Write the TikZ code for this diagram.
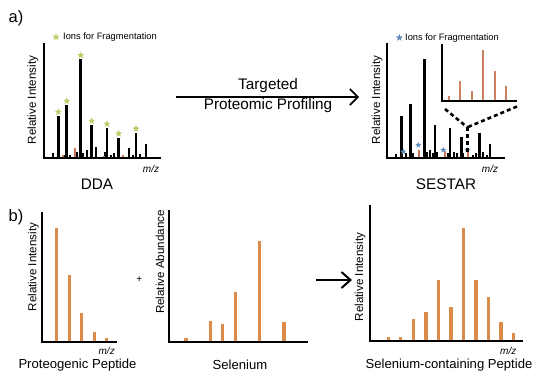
\documentclass[tikz,border=0pt]{standalone}
\usepackage{fontspec}
\setmainfont{Liberation Sans}
\usetikzlibrary{arrows.meta,shapes.geometric}
\definecolor{barorange}{RGB}{218,140,72}
\definecolor{insetred}{RGB}{206,128,98}
\definecolor{smallred}{RGB}{205,115,90}
\definecolor{stargreen}{RGB}{185,205,100}
\definecolor{starblue}{RGB}{95,140,185}
\begin{document}
\begin{tikzpicture}[x=1pt,y=-1pt,
  axisline/.style={line width=2pt, line cap=butt, line join=miter},
  bigbar/.style={line width=2.6pt, black},
  smallbar/.style={line width=2pt, black},
  redbar/.style={line width=2pt, smallred},
  orangebar/.style={line width=3.2pt, barorange},
  insetbar/.style={line width=1.8pt, insetred},
  ylabel/.style={rotate=90, font=\fontsize{11.6}{13}\selectfont, inner sep=0pt},
  mzlabel/.style={font=\fontsize{10}{12}\selectfont\itshape, inner sep=0pt},
  title/.style={font=\fontsize{15.3}{18}\selectfont, inner sep=0pt},
  panellabel/.style={font=\fontsize{16.5}{19}\selectfont, inner sep=0pt},
  sublabel/.style={font=\fontsize{13.1}{15}\selectfont, inner sep=0pt},
  legendtext/.style={font=\fontsize{9.3}{11}\selectfont, inner sep=0pt, anchor=west},
  starmark/.style={star, star points=5, star point ratio=2.4, minimum size=7.5pt, inner sep=0pt, draw=none},
  flowarrow/.style={line width=1.6pt, -{Straight Barb[length=8pt,width=16pt,line width=1.6pt]}},
  zoomline/.style={line width=2.6pt, dash pattern=on 4pt off 3pt}
]
\useasboundingbox (0,0) rectangle (536,378);
\fill[white] (0,0) rectangle (536,378);

% ---------- panel labels ----------
\node[panellabel] (la) at (16,18) {a)};
\node[panellabel] (lb) at (16,217) {b)};

% ---------- DDA spectrum ----------
\foreach \x/\t in {52.7/153, 64/155, 70/155, 76.7/152, 82.7/153, 86.7/150, 96/147, 105/152, 110.7/155, 114/153, 129.3/148, 132.7/155, 140/154, 146/144}
  \draw[smallbar] (\x,158) -- (\x,\t);
\foreach \x/\t in {75/148, 62.7/155, 123.3/155, 104/156}
  \draw[redbar] (\x,158) -- (\x,\t);
\foreach \x/\t in {58.3/116, 66.7/105, 80.7/59.3, 91.7/125, 107/128, 118.7/137.7, 136/132.7}
{
  \draw[bigbar] (\x,158) -- (\x,\t);
  \node[starmark, fill=stargreen] at (\x,\t-4) {};
}
\draw[axisline] (44,43) -- (44,158) -- (161,158);
\node[starmark, fill=stargreen] (ddastar) at (56,37) {};
\node[legendtext] (ddaleg) at (63,37) {Ions for Fragmentation};
\node[ylabel] (ddaylab) at (33,100) {Relative Intensity};
\node[mzlabel] (ddamz) at (151,169) {m/z};
\node[title] (dda) at (97,184) {DDA};

% ---------- arrow a ----------
\coordinate (arrAstart) at (176,97);
\coordinate (arrAend) at (359,97);
\draw[flowarrow] (arrAstart) -- (arrAend);
\node[title] (targ) at (268,86) {Targeted};
\node[title] (prof) at (268,106) {Proteomic Profiling};

% ---------- SESTAR spectrum ----------
\foreach \x/\t in {396/154.3, 406/153.3, 413.3/153.3, 426.7/151.7, 430/150, 433.3/153.3, 437.3/151.7, 448.3/153, 454/151.7, 457.3/153.3, 463.3/153.3, 472.7/155, 476/153.3, 483.3/151.7, 486.7/155}
  \draw[smallbar] (\x,158) -- (\x,\t);
\foreach \x/\t in {419.3/150, 445/151, 468.3/151.7}
  \draw[redbar] (\x,158) -- (\x,\t);
\foreach \x/\t in {401.7/116, 410.7/104.3, 424.3/59.3, 435/125, 450/128.3, 461.7/136.7, 479.3/132.7, 490/144.3}
  \draw[bigbar] (\x,158) -- (\x,\t);
\foreach \x/\y in {403.3/151.7, 418.3/145, 443.3/150, 467.3/150}
  \node[starmark, fill=starblue, minimum size=6.5pt] at (\x,\y) {};
\draw[axisline] (387.3,43) -- (387.3,158) -- (505,158);
\node[starmark, fill=starblue] (sesstar) at (399.3,37.7) {};
\node[legendtext] (sesleg) at (405,37.7) {Ions for Fragmentation};
\node[ylabel] (sesylab) at (377,100) {Relative Intensity};
\node[mzlabel] (sesmz) at (490,169) {m/z};
\node[title] (sestar) at (446,184) {SESTAR};

% inset
\foreach \x/\t in {449/96, 460/80.7, 471.7/91, 483.3/50, 495/70.7, 506/86}
  \draw[insetbar] (\x,101) -- (\x,\t);
\draw[axisline] (441.7,44) -- (441.7,101) -- (517,101);
\coordinate (zl) at (445,109);
\coordinate (zr) at (517,106.5);
\coordinate (zm) at (467.3,127.3);
\coordinate (zb) at (467.3,152);
\draw[zoomline] (zl) -- (zm);
\draw[zoomline] (zr) -- (zm);
\draw[zoomline] (zm) -- (zb);

% ---------- b) proteogenic peptide ----------
\foreach \x/\t in {56.7/227.7, 69.3/275, 81.7/312.7, 94.3/331.7, 106.7/338.3}
  \draw[orangebar] (\x,341.7) -- (\x,\t);
\draw[axisline] (41.7,211.7) -- (41.7,341.7) -- (117.3,341.7);
\node[ylabel] (ppylab) at (33.3,267) {Relative Intensity};
\node[mzlabel] (ppmz) at (106.7,351) {m/z};
\node[sublabel] (pp) at (77.5,365) {Proteogenic Peptide};

\node[font=\fontsize{10}{12}\selectfont, inner sep=0pt] (plus) at (139.3,279.3) {+};

% ---------- selenium ----------
\foreach \x/\t in {186/337.7, 210.7/321, 222.7/324.3, 235.3/292.3, 259.3/241, 284/322.3}
  \draw[orangebar] (\x,341.7) -- (\x,\t);
\draw[axisline] (169.3,210) -- (169.3,341.7) -- (308.3,341.7);
\node[ylabel] (seylab) at (160,262) {Relative Abundance};
\node[sublabel] (se) at (240,365) {Selenium};

% ---------- arrow b ----------
\coordinate (arrBstart) at (316,280);
\coordinate (arrBend) at (352,280);
\draw[line width=2pt, -{Straight Barb[length=9pt,width=16pt,line width=2pt]}] (arrBstart) -- (arrBend);

% ---------- selenium-containing peptide ----------
\foreach \x/\t in {388.3/336.7, 400.7/336.7, 413.3/319.3, 426/312.3, 438.3/280, 451/307.3, 463.3/227.7, 476/280, 488.7/297.3, 501/321.7, 513.7/333.3}
  \draw[orangebar] (\x,341) -- (\x,\t);
\draw[axisline] (370,205) -- (370,341) -- (523.3,341);
\node[ylabel] (scylab) at (360,277) {Relative Intensity};
\node[mzlabel] (scmz) at (508.3,351) {m/z};
\node[sublabel] (sc) at (449,365) {Selenium-containing Peptide};
\end{tikzpicture}
\end{document}
